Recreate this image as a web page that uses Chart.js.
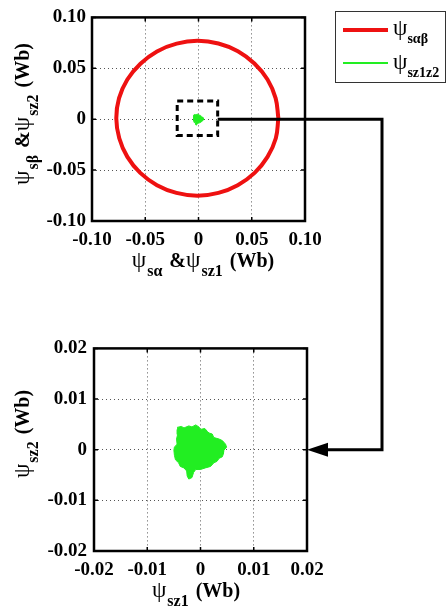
<!DOCTYPE html>
<html>
<head>
<meta charset="utf-8">
<script src="https://cdn.jsdelivr.net/npm/chart.js@4.4.1/dist/chart.umd.min.js"></script>
<style>
  html, body { margin: 0; padding: 0; background: #fff; }
  #wrap { position: relative; width: 448px; height: 610px; overflow: hidden; }
  canvas { position: absolute; }
  .ttl { position: absolute; font: bold 20px 'Liberation Serif', 'Times New Roman', serif; color: #000; white-space: nowrap; line-height: 20px; }
  .ttl .g { font-weight: normal; font-size: 23px; }
  .ttl sub { font-size: 16px; vertical-align: -9px; line-height: 0; margin-left: 1px; }
  .ttl .sp { display: inline-block; width: 7px; }
  .rot { transform: translate(-50%, -50%) rotate(-90deg); }
  .hor { transform: translateX(-50%); }
  #legend { position: absolute; left: 335px; top: 11px; width: 111px; height: 72px; border: 1.5px solid #333; box-sizing: border-box; }
  #legend .ln { position: absolute; left: 7px; width: 45px; }
  #legend .ttl { left: 57px; }
  #legend sub { font-size: 14px; margin-left: 0; vertical-align: -8px; }
</style>
</head>
<body>
<div id="wrap">
  <canvas id="topChart" width="335" height="280" style="left:0;top:0"></canvas>
  <canvas id="zoomChart" width="335" height="280" style="left:0;top:330px"></canvas>
  <canvas id="linkLayer" width="448" height="610" style="left:0;top:0;pointer-events:none"></canvas>

  <div class="ttl rot" style="left:22px;top:114px"><span class="g">ψ</span><sub>sβ</sub><span class="sp"></span>&amp;<span class="g">ψ</span><sub>sz2</sub><span class="sp"></span>(Wb)</div>
  <div class="ttl hor" style="left:203px;top:250px"><span class="g">ψ</span><sub>sα</sub><span class="sp"></span>&amp;<span class="g">ψ</span><sub>sz1</sub><span class="sp"></span>(Wb)</div>
  <div class="ttl rot" style="left:22px;top:434px"><span class="g">ψ</span><sub>sz2</sub><span class="sp"></span>(Wb)</div>
  <div class="ttl hor" style="left:196px;top:580px"><span class="g">ψ</span><sub>sz1</sub><span class="sp"></span>(Wb)</div>

  <div id="legend">
    <div class="ln" style="top:16px;height:4px;background:#ee1111"></div>
    <div class="ttl" style="top:6px"><span class="g">ψ</span><sub>sαβ</sub></div>
    <div class="ln" style="top:50px;height:1.5px;background:#22ee22"></div>
    <div class="ttl" style="top:40px"><span class="g">ψ</span><sub>sz1z2</sub></div>
  </div>
</div>

<script>
// stator flux in the alpha-beta plane (Wb)
const fluxAlpha = [0.075, 0.0724, 0.0648, 0.0525, 0.037, 0.0187, -0.001, -0.0205, -0.039, -0.0545, -0.0668, -0.0746, -0.0772,
  -0.0744, -0.0668, -0.0547, -0.039, -0.0207, -0.001, 0.0187, 0.0368, 0.0527, 0.0648, 0.0726, 0.075];
const fluxBeta = [0.001, 0.0207, 0.039, 0.0547, 0.0668, 0.0744, 0.077, 0.0742, 0.0666, 0.0545, 0.039, 0.0207, 0.001,
  -0.0187, -0.037, -0.0527, -0.0648, -0.0724, -0.0752, -0.0724, -0.0648, -0.0527, -0.037, -0.0187, 0.001];

// z1-z2 subspace flux, outline of the trajectory cloud (Wb)
const fluxZ1 = [-0.0044, -0.0036, -0.0031, -0.0022, -0.0016, -0.0009, -0.0003, 0.0000, 0.0008, 0.0013, 0.0016, 0.0022,
  0.0025, 0.0035, 0.0041, 0.0047, 0.0049, 0.0044, 0.0043, 0.0041, 0.0035, 0.0031, 0.0025, 0.0019, 0.0009, 0.0000,
  -0.0009, -0.0013, -0.0016, -0.0022, -0.0025, -0.0026, -0.0031, -0.0038, -0.0041, -0.0047, -0.0049, -0.0050,
  -0.0049, -0.0044, -0.0045, -0.0043, -0.0044];
const fluxZ2 = [0.0044, 0.0046, 0.0043, 0.0047, 0.0045, 0.0049, 0.0045, 0.0040, 0.0042, 0.0036, 0.0033, 0.0031,
  0.0024, 0.0021, 0.0018, 0.0011, 0.0005, -0.0001, -0.0008, -0.0014, -0.0017, -0.0023, -0.0026, -0.0033, -0.0036,
  -0.0039, -0.0039, -0.0045, -0.0055, -0.0058, -0.0052, -0.0042, -0.0036, -0.0033, -0.0026, -0.0020, -0.0011,
  -0.0001, 0.0005, 0.0011, 0.0021, 0.0030, 0.0040];

// zoom window marked on the upper plot
const zoomBoxX = [-0.02, 0.018, 0.018, -0.02, -0.02];
const zoomBoxY = [0.018, 0.018, -0.016, -0.016, 0.018];

const topTicks = [-0.1, -0.05, 0, 0.05, 0.1];
const topTickLabels = ['-0.10', '-0.05', '0', '0.05', '0.10'];
const zoomTicks = [-0.02, -0.01, 0, 0.01, 0.02];
const zoomTickLabels = ['-0.02', '-0.01', '0', '0.01', '0.02'];

const RED = '#ee1111';
const GREEN = '#22ee22';
const FONT = { family: "'Liberation Serif', 'Times New Roman', serif", size: 19, weight: 'bold' };

function toPoints(xs, ys) {
    return xs.map((x, i) => ({ x: x, y: ys[i] }));
}

// solid frame plus short inward ticks on all four sides
const framePlugin = {
    id: 'frame',
    afterDraw(chart) {
        const { ctx, chartArea: a, scales } = chart;
        ctx.save();
        ctx.strokeStyle = '#000';
        ctx.lineWidth = 1.5;
        ctx.beginPath();
        scales.x.ticks.forEach(t => {
            const px = scales.x.getPixelForValue(t.value);
            ctx.moveTo(px, a.top); ctx.lineTo(px, a.top + 4);
            ctx.moveTo(px, a.bottom); ctx.lineTo(px, a.bottom - 4);
        });
        scales.y.ticks.forEach(t => {
            const py = scales.y.getPixelForValue(t.value);
            ctx.moveTo(a.left, py); ctx.lineTo(a.left + 4, py);
            ctx.moveTo(a.right, py); ctx.lineTo(a.right - 4, py);
        });
        ctx.stroke();
        ctx.lineWidth = 2.5;
        ctx.strokeRect(a.left, a.top, a.right - a.left, a.bottom - a.top);
        ctx.restore();
    }
};

function axis(ticks, labels, isY, fitSize, pad) {
    return {
        type: 'linear',
        min: ticks[0],
        max: ticks[ticks.length - 1],
        afterBuildTicks: s => { s.ticks = ticks.map(v => ({ value: v })); },
        afterFit: s => { if (isY) s.width = fitSize; else s.height = fitSize; },
        grid: { color: '#555', lineWidth: 1, drawTicks: false },
        border: { display: false, dash: [1, 3] },
        ticks: {
            font: FONT,
            color: '#000',
            padding: pad,
            maxRotation: 0,
            autoSkip: false,
            callback: v => labels[ticks.indexOf(v)]
        }
    };
}

function makeOptions(ticks, labels, yWidth, yPad, rightPad) {
    return {
        responsive: false,
        animation: false,
        layout: { autoPadding: false, padding: { left: 0, top: 11, right: rightPad, bottom: 0 } },
        plugins: { legend: { display: false }, tooltip: { enabled: false } },
        elements: { point: { radius: 0 } },
        scales: {
            x: axis(ticks, labels, false, 59, 8),
            y: axis(ticks, labels, true, yWidth, yPad)
        }
    };
}

const topChart = new Chart(document.getElementById('topChart'), {
    type: 'scatter',
    data: {
        datasets: [
            {
                label: 'ψsz1z2',
                data: toPoints(fluxZ1, fluxZ2),
                showLine: true,
                fill: 'shape',
                borderColor: GREEN,
                backgroundColor: GREEN,
                borderWidth: 1
            },
            {
                label: 'ψsαβ',
                data: toPoints(fluxAlpha, fluxBeta),
                showLine: true,
                tension: 0.4,
                borderColor: RED,
                borderWidth: 4,
                fill: false
            },
            {
                label: 'zoom',
                data: toPoints(zoomBoxX, zoomBoxY),
                showLine: true,
                borderColor: '#000',
                borderWidth: 3,
                borderDash: [6, 4],
                fill: false
            }
        ]
    },
    options: makeOptions(topTicks, topTickLabels, 92, 6, 30),
    plugins: [framePlugin]
});

const zoomChart = new Chart(document.getElementById('zoomChart'), {
    type: 'scatter',
    data: {
        datasets: [{
            label: 'ψsz1z2',
            data: toPoints(fluxZ1, fluxZ2),
            showLine: true,
            fill: 'shape',
            borderColor: GREEN,
            backgroundColor: GREEN,
            borderWidth: 1
        }]
    },
    options: makeOptions(zoomTicks, zoomTickLabels, 94, 7, 28),
    plugins: [framePlugin]
});

// elbow arrow from the zoom window to the lower plot
function drawLink() {
    const ctx = document.getElementById('linkLayer').getContext('2d');
    const zoomTop = 330;
    const x0 = topChart.scales.x.getPixelForValue(zoomBoxX[1]);
    const y0 = topChart.scales.y.getPixelForValue(0);
    const x1 = zoomChart.chartArea.right;
    const y1 = zoomTop + zoomChart.scales.y.getPixelForValue(0);
    const xTurn = 382;

    ctx.strokeStyle = '#000';
    ctx.lineWidth = 3;
    ctx.beginPath();
    ctx.moveTo(x0, y0);
    ctx.lineTo(xTurn, y0);
    ctx.lineTo(xTurn, y1);
    ctx.lineTo(x1 + 18, y1);
    ctx.stroke();

    ctx.fillStyle = '#000';
    ctx.beginPath();
    ctx.moveTo(x1, y1);
    ctx.lineTo(x1 + 21, y1 - 7);
    ctx.lineTo(x1 + 21, y1 + 7);
    ctx.closePath();
    ctx.fill();
}

drawLink();
</script>
</body>
</html>
